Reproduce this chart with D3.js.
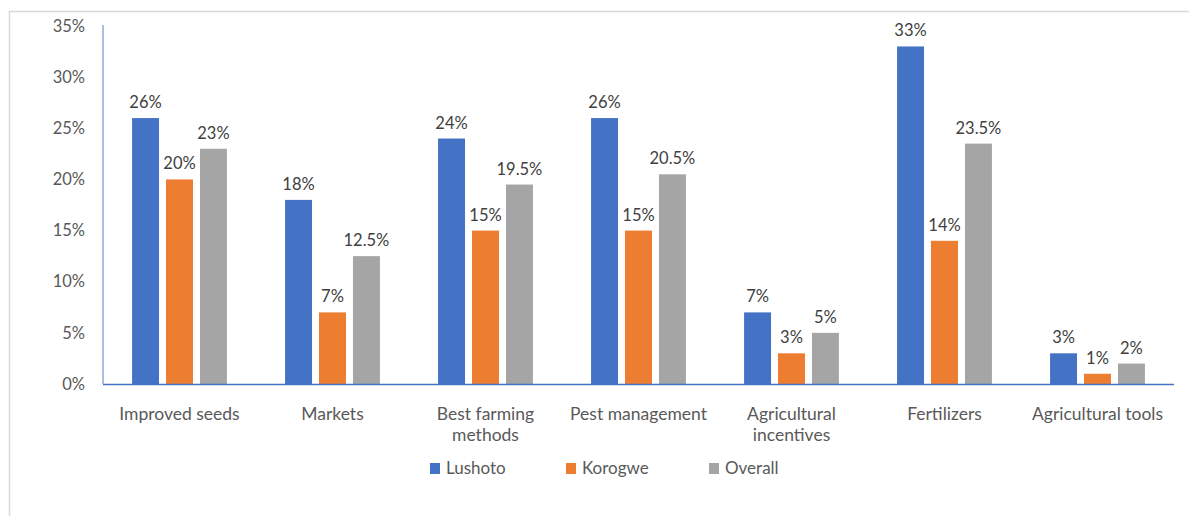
<!DOCTYPE html>
<html><head><meta charset="utf-8">
<script src="https://cdn.jsdelivr.net/npm/d3@7"></script>
<style>body{margin:0;background:#fff}svg{display:block}text{font-family:Lato,"Open Sans",sans-serif}</style>
</head><body><svg id="c" width="1189" height="516"></svg>
<script>
const categories = [["Improved seeds"],["Markets"],["Best farming","methods"],["Pest management"],["Agricultural","incentives"],["Fertilizers"],["Agricultural tools"]];
const seriesNames = ["Lushoto","Korogwe","Overall"];
const lushoto = [26,18,24,26,7,33,3];
const korogwe = [20,7,15,15,3,14,1];
const overall = [23,12.5,19.5,20.5,5,23.5,2];
const yTicks = [0,5,10,15,20,25,30,35];
const colors = ["#4472C4","#ED7D31","#A5A5A5"];

(function(){
const svg = d3.select("#c");
svg.append("path").attr("d","M9.5,516 V11.5 H1189").attr("fill","none").attr("stroke","#d9d9d9").attr("stroke-width",1.5);

const pL=103, pR=1174, pT=26, pB=384;
const cats = categories.map((c,i)=>i);
const x0 = d3.scaleBand().domain(cats).range([pL,pR]).paddingInner(0.38).paddingOuter(0.19);
const x1 = d3.scaleBand().domain(seriesNames).range([0,x0.bandwidth()]).paddingInner(0.206);
const y = d3.scaleLinear().domain([0,35]).range([pB,pT]);
const data = [lushoto,korogwe,overall];

svg.append("g").selectAll("text").data(yTicks).join("text")
  .attr("x",85).attr("y",d=>y(d)).attr("dy","0.35em").attr("text-anchor","end")
  .attr("font-size",16.5).attr("fill","#595959").text(d=>d+"%");

seriesNames.forEach((s,si)=>{
  const g = svg.append("g");
  g.selectAll("rect").data(data[si]).join("rect")
    .attr("x",(d,i)=>x0(i)+x1(s)).attr("width",x1.bandwidth())
    .attr("y",d=>y(d)).attr("height",d=>y(0)-y(d)).attr("fill",colors[si]);
  g.selectAll("text").data(data[si]).join("text")
    .attr("x",(d,i)=>x0(i)+x1(s)+x1.bandwidth()/2).attr("y",d=>y(d)-10)
    .attr("text-anchor","middle").attr("font-size",16.5).attr("fill","#404040").text(d=>d+"%");
});

svg.append("line").attr("x1",pL).attr("x2",pL).attr("y1",pT-1).attr("y2",pB).attr("stroke","#8EA9DB").attr("stroke-width",1.5);
svg.append("line").attr("x1",pL).attr("x2",pR).attr("y1",pB+0.5).attr("y2",pB+0.5).attr("stroke","#4472C4").attr("stroke-width",1.5);

const xl = svg.append("g").selectAll("text").data(categories).join("text")
  .attr("x",(d,i)=>x0(i)+x0.bandwidth()/2).attr("y",420).attr("text-anchor","middle")
  .attr("font-size",17.5).attr("fill","#595959");
xl.selectAll("tspan").data(d=>d).join("tspan")
  .attr("x",function(){return this.parentNode.getAttribute("x");})
  .attr("dy",(d,i)=>i?21:0).text(d=>d);

const legX = [430,566,709];
const lg = svg.append("g").selectAll("g").data(seriesNames).join("g").attr("transform",(d,i)=>`translate(${legX[i]},463)`);
lg.append("rect").attr("width",10).attr("height",11).attr("fill",(d,i)=>colors[i]);
lg.append("text").attr("x",16).attr("y",5.5).attr("dy","0.35em").attr("font-size",17).attr("fill","#595959").text(d=>d);
})();
</script></body></html>
